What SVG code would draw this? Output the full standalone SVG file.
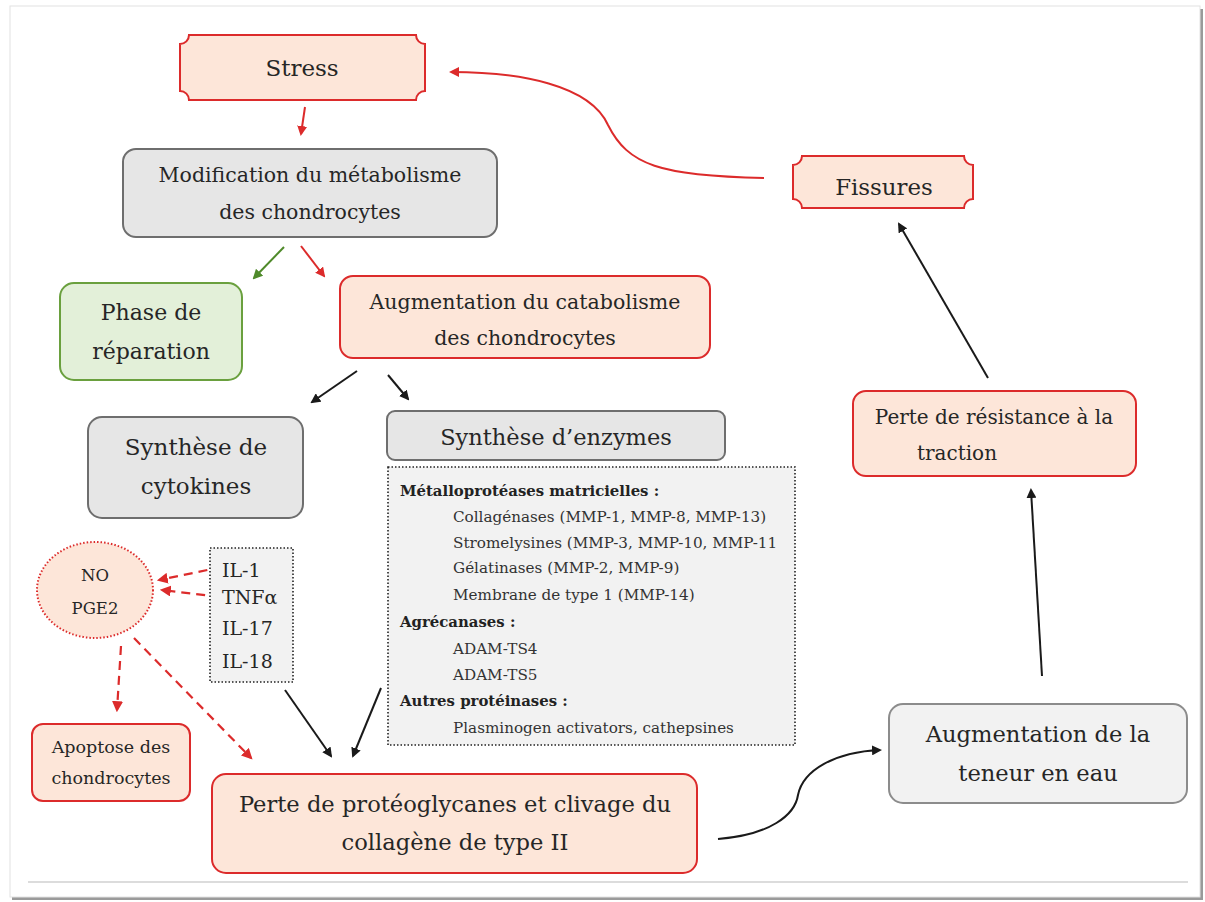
<svg xmlns="http://www.w3.org/2000/svg" width="1205" height="902" viewBox="0 0 1205 902">
<defs>
<style>
text{font-family:"DejaVu Serif","Liberation Serif",serif;fill:#262626;text-anchor:middle}
.red{fill:#fde6d9;stroke:#dc2b2b;stroke-width:2}
.gray{fill:#e6e6e6;stroke:#6e6e6e;stroke-width:2}
.green{fill:#e3f0d9;stroke:#6aa03e;stroke-width:2}
.dot{fill:#f2f2f2;stroke:#222;stroke-width:1.6;stroke-dasharray:1.5 2}
.l{text-anchor:start}
.sm{font-size:15.2px;fill:#333}
.b{font-weight:bold;fill:#222;font-size:14.9px}
.ab{stroke:#1a1a1a;stroke-width:2;fill:none;marker-end:url(#mb)}
.ar{stroke:#dc2b2b;stroke-width:2;fill:none;marker-end:url(#mr)}
.ag{stroke:#4f8a2a;stroke-width:2;fill:none;marker-end:url(#mg)}
.ad{stroke:#dc2b2b;stroke-width:2.2;fill:none;stroke-dasharray:9 6;marker-end:url(#mr)}
</style>
<marker id="mb" viewBox="0 0 10 10" refX="8" refY="5" markerWidth="5" markerHeight="5" orient="auto" markerUnits="strokeWidth"><path d="M0,0 L10,5 L0,10 Z" fill="#1a1a1a"/></marker>
<marker id="mr" viewBox="0 0 10 10" refX="8" refY="5" markerWidth="5" markerHeight="5" orient="auto" markerUnits="strokeWidth"><path d="M0,0 L10,5 L0,10 Z" fill="#dc2b2b"/></marker>
<marker id="mg" viewBox="0 0 10 10" refX="8" refY="5" markerWidth="5" markerHeight="5" orient="auto" markerUnits="strokeWidth"><path d="M0,0 L10,5 L0,10 Z" fill="#4f8a2a"/></marker>
</defs>
<rect width="1205" height="902" fill="#ffffff"/>
<rect x="12" y="9" width="1191" height="891" fill="#9a9a9a"/>
<rect x="10" y="6" width="1190" height="891" fill="#ffffff" stroke="#e2e2e2" stroke-width="1"/>
<line x1="28" y1="882" x2="1188" y2="882" stroke="#dcdcdc" stroke-width="2"/>

<g id="connectors">
<path class="ar" d="M305,107 L301,134"/>
<path class="ag" d="M284,247 L254,278"/>
<path class="ar" d="M301,246 L324,276"/>
<path class="ab" d="M357,371 L312,402"/>
<path class="ab" d="M388,375 L408,399"/>
<path class="ad" d="M222,567 L159,580"/>
<path class="ad" d="M220,597 L162,590"/>
<path class="ad" d="M121,646 L117,710"/>
<path class="ad" d="M134,638 L251,758"/>
<path class="ab" d="M285,690 L331,756"/>
<path class="ab" d="M381,688 L353,756"/>
<path class="ab" d="M718,839 C770,835 795,815 798,795 C803,770 835,752 880,750"/>
<path class="ab" d="M1042,676 L1031,490"/>
<path class="ab" d="M988,378 L899,224"/>
<path class="ar" d="M764,178 C660,176 628,165 608,125 C590,85 520,72 451,72"/>
</g>

<g id="stress">
<path class="red" d="M189,35 H416 A9,9 0 0 0 425,44 V91 A9,9 0 0 0 416,100 H189 A9,9 0 0 0 180,91 V44 A9,9 0 0 0 189,35 Z"/>
<text x="302" y="76" font-size="23">Stress</text>
</g>
<g id="modification">
<rect class="gray" x="123" y="149" width="374" height="88" rx="13"/>
<text x="310" y="182" font-size="20.5">Modification du métabolisme</text>
<text x="310" y="219" font-size="20.5">des chondrocytes</text>
</g>
<g id="reparation">
<rect class="green" x="60" y="283" width="182" height="97" rx="14"/>
<text x="151" y="320" font-size="22">Phase de</text>
<text x="151" y="359" font-size="22">réparation</text>
</g>
<g id="catabolisme">
<rect class="red" x="340" y="276" width="370" height="82" rx="13"/>
<text x="525" y="309" font-size="20.5">Augmentation du catabolisme</text>
<text x="525" y="345" font-size="20.5">des chondrocytes</text>
</g>
<g id="cytokines">
<rect class="gray" x="88" y="417" width="215" height="101" rx="14"/>
<text x="196" y="455" font-size="23">Synthèse de</text>
<text x="196" y="494" font-size="23">cytokines</text>
</g>
<g id="enzymes">
<rect class="gray" x="387" y="411" width="338" height="49" rx="8"/>
<text x="556" y="445" font-size="22.5">Synthèse d’enzymes</text>
</g>
<g id="enzymes-list">
<rect class="dot" x="388" y="467" width="407" height="278"/>
<text class="l b" x="400" y="496">Métalloprotéases matricielles :</text>
<text class="l sm" x="453" y="522">Collagénases (MMP-1, MMP-8, MMP-13)</text>
<text class="l sm" x="453" y="548">Stromelysines (MMP-3, MMP-10, MMP-11</text>
<text class="l sm" x="453" y="573">Gélatinases (MMP-2, MMP-9)</text>
<text class="l sm" x="453" y="600">Membrane de type 1 (MMP-14)</text>
<text class="l b" x="400" y="627">Agrécanases :</text>
<text class="l sm" x="453" y="654">ADAM-TS4</text>
<text class="l sm" x="453" y="680">ADAM-TS5</text>
<text class="l b" x="400" y="706">Autres protéinases :</text>
<text class="l sm" x="453" y="733">Plasminogen activators, cathepsines</text>
</g>
<g id="interleukines">
<rect class="dot" x="210" y="548" width="83" height="134"/>
<text class="l" x="222" y="577" font-size="19">IL-1</text>
<text class="l" x="222" y="604" font-size="19">TNFα</text>
<text class="l" x="222" y="635" font-size="19">IL-17</text>
<text class="l" x="222" y="668" font-size="19">IL-18</text>
</g>
<g id="no-pge2">
<ellipse cx="95" cy="590" rx="58" ry="48" fill="#fde6d9" stroke="#dc2b2b" stroke-width="2" stroke-dasharray="1.5 2"/>
<text x="95" y="581" font-size="16.5">NO</text>
<text x="95" y="614" font-size="16.5">PGE2</text>
</g>
<g id="apoptose">
<rect class="red" x="32" y="724" width="158" height="77" rx="11"/>
<text x="111" y="753" font-size="17.5">Apoptose des</text>
<text x="111" y="784" font-size="17.5">chondrocytes</text>
</g>
<g id="perte-proteoglycanes">
<rect class="red" x="212" y="774" width="485" height="99" rx="14"/>
<text x="455" y="812" font-size="22.6">Perte de protéoglycanes et clivage du</text>
<text x="455" y="850" font-size="22.6">collagène de type II</text>
</g>
<g id="teneur-eau">
<rect x="889" y="704" width="298" height="99" rx="14" fill="#f2f2f2" stroke="#8c8c8c" stroke-width="2"/>
<text x="1038" y="742" font-size="22.6">Augmentation de la</text>
<text x="1038" y="781" font-size="22.6">teneur en eau</text>
</g>
<g id="perte-resistance">
<rect class="red" x="853" y="391" width="283" height="85" rx="13"/>
<text x="994" y="424" font-size="20">Perte de résistance à la</text>
<text x="957" y="460" font-size="20">traction</text>
</g>
<g id="fissures">
<path class="red" d="M802,156 H964 A9,9 0 0 0 973,165 V199 A9,9 0 0 0 964,208 H802 A9,9 0 0 0 793,199 V165 A9,9 0 0 0 802,156 Z"/>
<text x="884" y="195" font-size="22.9">Fissures</text>
</g>
</svg>
